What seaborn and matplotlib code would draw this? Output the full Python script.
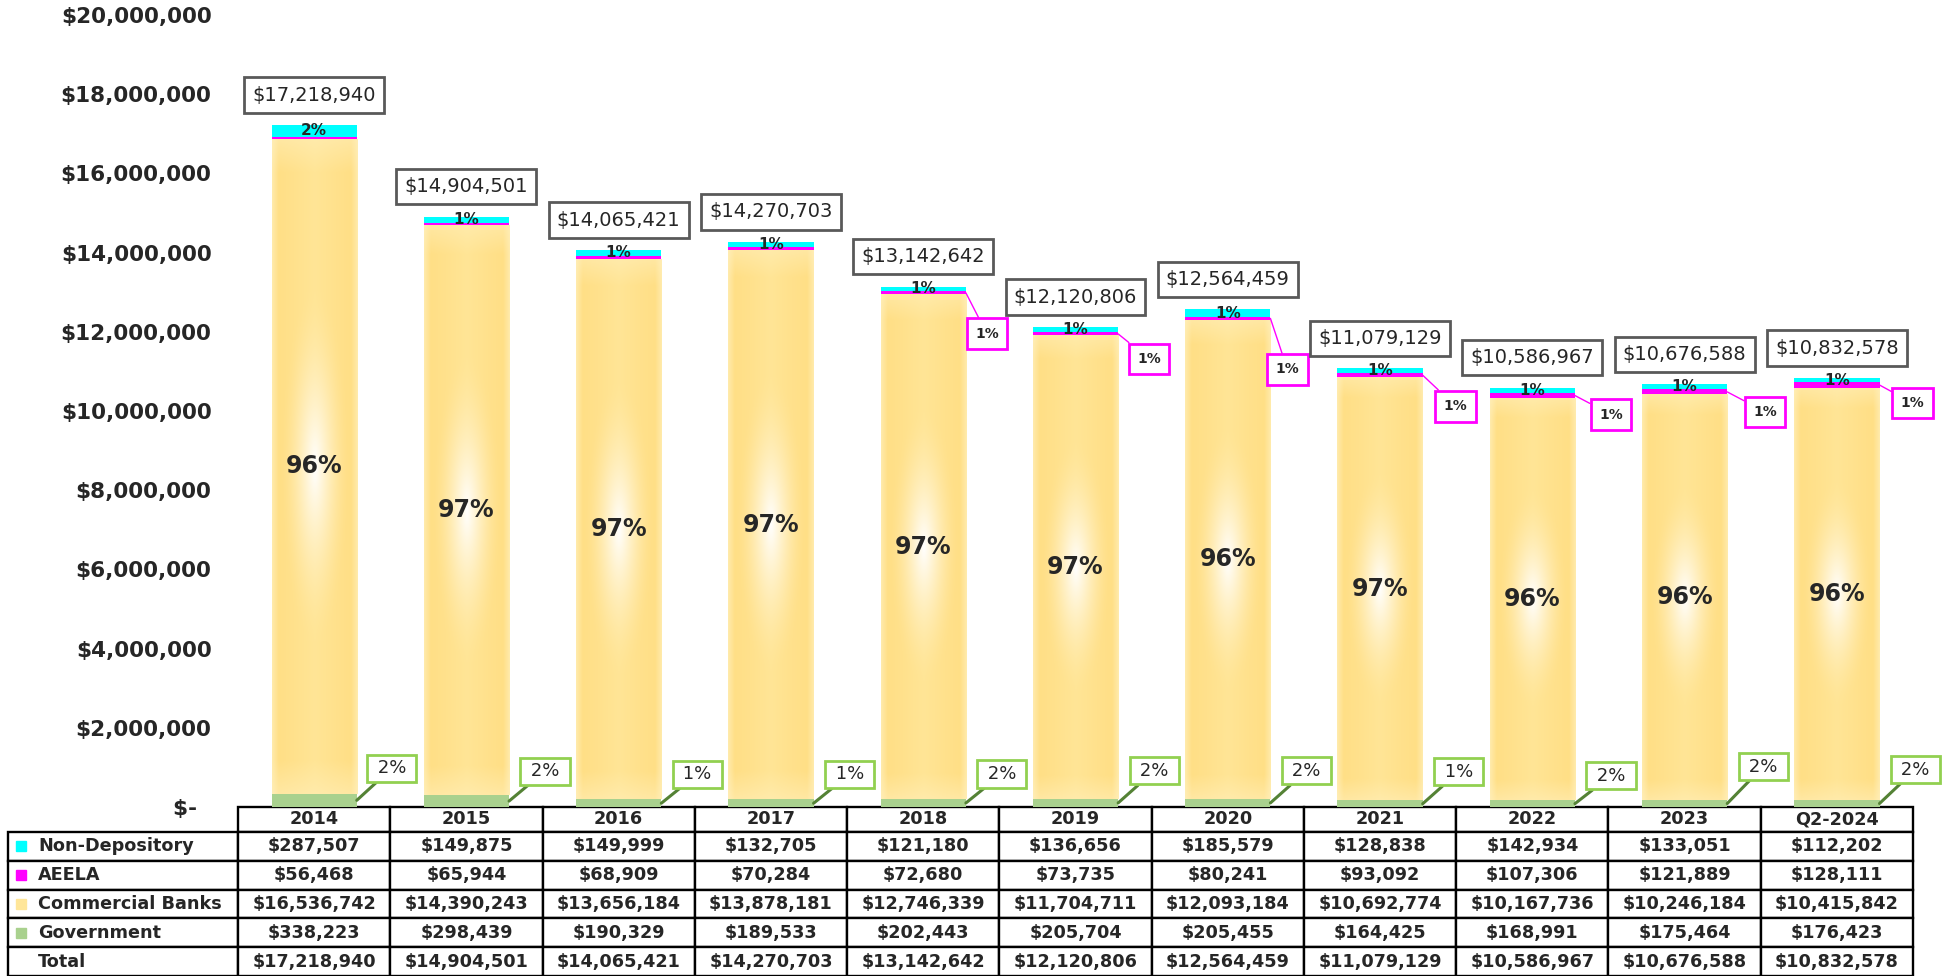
import numpy as np
import pandas as pd
import seaborn as sns
import matplotlib
matplotlib.use("Agg")
import matplotlib.pyplot as plt

# data
periods = ["2014", "2015", "2016", "2017", "2018", "2019", "2020", "2021", "2022", "2023", "Q2-2024"]
non_depository = [287507, 149875, 149999, 132705, 121180, 136656, 185579, 128838, 142934, 133051, 112202]
aeela = [56468, 65944, 68909, 70284, 72680, 73735, 80241, 93092, 107306, 121889, 128111]
commercial_banks = [16536742, 14390243, 13656184, 13878181, 12746339, 11704711, 12093184, 10692774,
                    10167736, 10246184, 10415842]
government = [338223, 298439, 190329, 189533, 202443, 205704, 205455, 164425, 168991, 175464, 176423]
totals = [17218940, 14904501, 14065421, 14270703, 13142642, 12120806, 12564459, 11079129, 10586967,
          10676588, 10832578]

# label box offsets (pixels) picked to match the reference layout
aeela_offsets = [None, None, None, None, (21, -41), (31, -25), (17, -51), (33, -31), (36, -19), (38, -20), (33, -18)]
gov_offsets = [(35, 32), (36, 30), (36, 29), (36, 29), (36, 29), (36, 32), (36, 32), (36, 32), (36, 28), (36, 37), (36, 34)]

sns.set_style("white")
plt.rcParams["font.family"] = ["DejaVu Sans"]

df = pd.DataFrame({"period": periods, "Government": government, "Commercial Banks": commercial_banks,
                   "AEELA": aeela, "Non-Depository": non_depository})

W, H = 1948, 976
fig = plt.figure(figsize=(W / 100, H / 100), dpi=100)
ax_l, ax_r, ax_b, ax_t = 238, 1913, 807, 15
ax = fig.add_axes([ax_l / W, (H - ax_b) / H, (ax_r - ax_l) / W, (ax_b - ax_t) / H])

series = [("Government", "#A9D18E"), ("Commercial Banks", "#FFE699"),
          ("AEELA", "#FF00FF"), ("Non-Depository", "#00FFFF")]
bottom = np.zeros(len(periods))
for name, color in series:
    sns.barplot(data=df, x="period", y=name, bottom=bottom, color=color, saturation=1,
                width=0.56, linewidth=0, errorbar=None, ax=ax)
    bottom = bottom + df[name].values

# gradient fill for the commercial banks bars: gold base with a soft white glow in the middle
nv, nu = 400, 80
u = np.abs(np.linspace(-1, 1, nu))[None, :]
v = np.abs(np.linspace(-1, 1, nv))[:, None]
base_stops = [0.0, 0.5, 0.85, 1.0]
base_cols = np.array([[255, 229, 150], [255, 225, 140], [255, 223, 134], [255, 234, 170]]) / 255
base = np.dstack([np.interp(u + 0 * v, base_stops, base_cols[:, k]) for k in range(3)])
edge_v = np.clip((v - 0.9) / 0.1, 0, 1)[..., None]
base = base * (1 - 0.5 * edge_v) + np.array([255, 240, 190]) / 255 * 0.5 * edge_v
dist = np.sqrt((u / 0.8) ** 2 + (v / 0.55) ** 2)
glow = (np.clip(1 - dist, 0, 1) ** 1.7)[..., None]
grad = base * (1 - glow) + glow
for p in ax.containers[1]:
    x, y, w, h = p.get_x(), p.get_y(), p.get_width(), p.get_height()
    im = ax.imshow(grad, extent=(x, x + w, y, y + h), aspect="auto", zorder=1.05, interpolation="bilinear")
    im.set_clip_path(p)

half = 0.28
for i in range(len(periods)):
    tot = totals[i]
    pct = lambda val: int(np.floor(val / tot * 100 + 0.5))
    # total box
    ax.annotate(f"${tot:,}", xy=(i, tot), xytext=(0, 30), textcoords="offset pixels",
                ha="center", va="center", fontsize=14, zorder=5,
                bbox=dict(boxstyle="square,pad=0.42", fc="white", ec="#595959", lw=2))
    # non-depository share
    nd_mid = government[i] + commercial_banks[i] + aeela[i] + non_depository[i] / 2
    ax.text(i, nd_mid, f"{pct(non_depository[i])}%", ha="center", va="center",
            fontsize=11, fontweight="bold", zorder=5)
    # commercial banks share
    cb_mid = government[i] + commercial_banks[i] / 2
    ax.text(i, cb_mid, f"{pct(commercial_banks[i])}%", ha="center", va="center",
            fontsize=17, fontweight="bold", zorder=5)
    # AEELA share
    if aeela_offsets[i] is not None:
        ae_mid = government[i] + commercial_banks[i] + aeela[i] / 2
        ax.annotate(f"{pct(aeela[i])}%", xy=(i + half, ae_mid), xytext=aeela_offsets[i],
                    textcoords="offset pixels", ha="center", va="center", fontsize=10,
                    fontweight="bold", zorder=5,
                    bbox=dict(boxstyle="square,pad=0.6", fc="white", ec="#FF00FF", lw=2),
                    arrowprops=dict(arrowstyle="-", color="#FF00FF", lw=1, shrinkA=0, shrinkB=0))
    # government share
    ax.annotate(f" {pct(government[i])}% ", xy=(i + half, government[i] / 2), xytext=gov_offsets[i],
                textcoords="offset pixels", ha="center", va="center", fontsize=13, zorder=5,
                bbox=dict(boxstyle="square,pad=0.25", fc="white", ec="#92D050", lw=2),
                arrowprops=dict(arrowstyle="-", color="#548235", lw=2.2, shrinkA=0, shrinkB=0))

ax.set_xlim(-0.5, len(periods) - 0.5)
ax.set_ylim(0, 20_000_000)
yt = np.arange(0, 20_000_001, 2_000_000)
ax.set_yticks(yt)
ax.set_yticklabels([f"${t:,.0f}" if t else "$-  " for t in yt], fontweight="bold")
ax.tick_params(axis="y", length=0, pad=19, labelsize=15.5)
ax.set_xticks([])
ax.set_xlabel("")
ax.set_ylabel("")
sns.despine(ax=ax, left=True, bottom=True)

# data table below the bars
row_names = ["Non-Depository", "AEELA", "Commercial Banks", "Government", "Total"]
row_values = [non_depository, aeela, commercial_banks, government, totals]
square_colors = ["#00FFFF", "#FF00FF", "#FFE699", "#A9D18E", None]
cell_text = [[nm] + [f"${v:,}" for v in vals] for nm, vals in zip(row_names, row_values)]
axw, axh = ax_r - ax_l, ax_b - ax_t
lab_w = ax_l - 8
tbl_h = H - ax_b
tbl = ax.table(cellText=cell_text, colLabels=[""] + periods, cellLoc="center",
               colWidths=[lab_w] + [axw / len(periods)] * len(periods),
               bbox=[-lab_w / axw, -tbl_h / axh, 1 + lab_w / axw, tbl_h / axh])
tbl.auto_set_font_size(False)
head_h, row_h = 25, (tbl_h - 25) / 5
for (r, c), cell in tbl.get_celld().items():
    cell.set_linewidth(1.7)
    cell.set_height(head_h if r == 0 else row_h)
    cell.get_text().set_fontsize(12.7)
    cell.get_text().set_fontweight("bold")
    if c == 0:
        if r == 0:
            cell.visible_edges = "open"
        else:
            cell.get_text().set_ha("left")
            cell.PAD = 0.13

for r, col in enumerate(square_colors):
    if col is None:
        continue
    py = ax_b + head_h + row_h * (r + 0.5)
    ax.plot([(21 - ax_l) / axw], [-(py - ax_b) / axh], marker="s", markersize=7.5, color=col,
            linestyle="none", transform=ax.transAxes, clip_on=False)

fig.savefig("out.png", dpi=100)
